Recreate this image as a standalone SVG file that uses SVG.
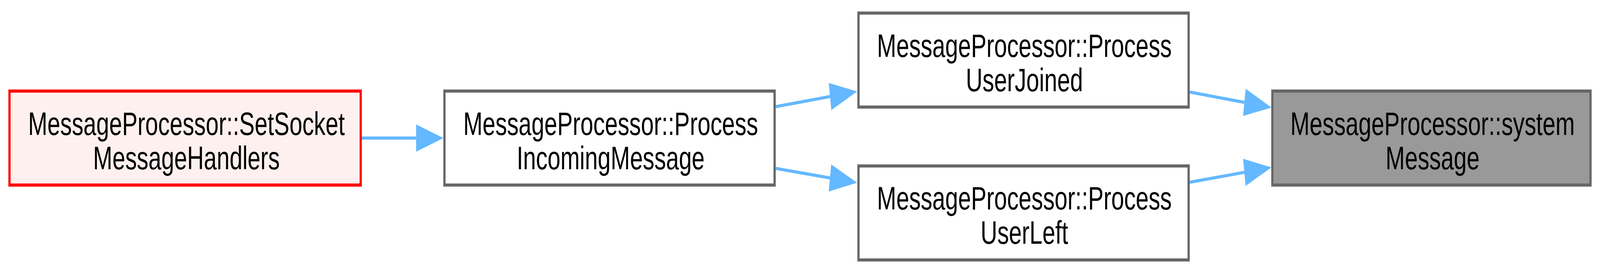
<svg xmlns="http://www.w3.org/2000/svg" width="5733" height="700" viewBox="0 0 5733 700" preserveAspectRatio="none" style="width:100vw;height:100vh">
  <style>
    .node rect { stroke-width: 8; }
    .fn rect { fill: #ffffff; stroke: #666666; }
    .root rect { fill: #fff0f0; stroke: #ff0000; }
    .target rect { fill: #999999; stroke: #666666; }
    .node text { font-family: "Liberation Sans", Arial, Helvetica, sans-serif; font-size: 83px; fill: #000000; text-anchor: middle; }
    .edge { fill: none; stroke: #63b8ff; stroke-width: 8; }
  </style>
  <defs>
    <marker id="arrow" markerUnits="userSpaceOnUse" markerWidth="100" markerHeight="72" refX="0" refY="36" orient="auto" overflow="visible">
      <path d="M0,1 L98,36 L0,71 Z" fill="#63b8ff" stroke="none"/>
    </marker>
  </defs>
  <rect x="0" y="0" width="5733" height="700" fill="#ffffff"/>

  <g id="edges">
    <path class="edge" d="M1296,354 L1491,354" marker-end="url(#arrow)"/>
    <path class="edge" d="M2779.5,273.5 L2974.1,247.5" marker-end="url(#arrow)"/>
    <path class="edge" d="M2779.5,431.7 L2973.8,456.2" marker-end="url(#arrow)"/>
    <path class="edge" d="M4263,236 L4458.7,262.5" marker-end="url(#arrow)"/>
    <path class="edge" d="M4263,467.3 L4458.7,441.9" marker-end="url(#arrow)"/>
  </g>

  <g id="node-setsocket" class="node root">
    <rect x="34" y="233.5" width="1258.5" height="241"/>
    <text x="668" y="346">MessageProcessor::SetSocket</text>
    <text x="668" y="434">MessageHandlers</text>
  </g>

  <g id="node-incoming" class="node fn">
    <rect x="1592.5" y="233.5" width="1183" height="241"/>
    <text x="2188" y="346">MessageProcessor::Process</text>
    <text x="2188" y="434">IncomingMessage</text>
  </g>

  <g id="node-userjoined" class="node fn">
    <rect x="3076" y="33.5" width="1183" height="241"/>
    <text x="3670.5" y="146">MessageProcessor::Process</text>
    <text x="3670.5" y="234">UserJoined</text>
  </g>

  <g id="node-userleft" class="node fn">
    <rect x="3076" y="425.5" width="1183" height="241"/>
    <text x="3670.5" y="537.5">MessageProcessor::Process</text>
    <text x="3670.5" y="625.5">UserLeft</text>
  </g>

  <g id="node-systemmessage" class="node target">
    <rect x="4559" y="233.5" width="1140" height="241"/>
    <text x="5133" y="346">MessageProcessor::system</text>
    <text x="5133" y="434">Message</text>
  </g>
</svg>
